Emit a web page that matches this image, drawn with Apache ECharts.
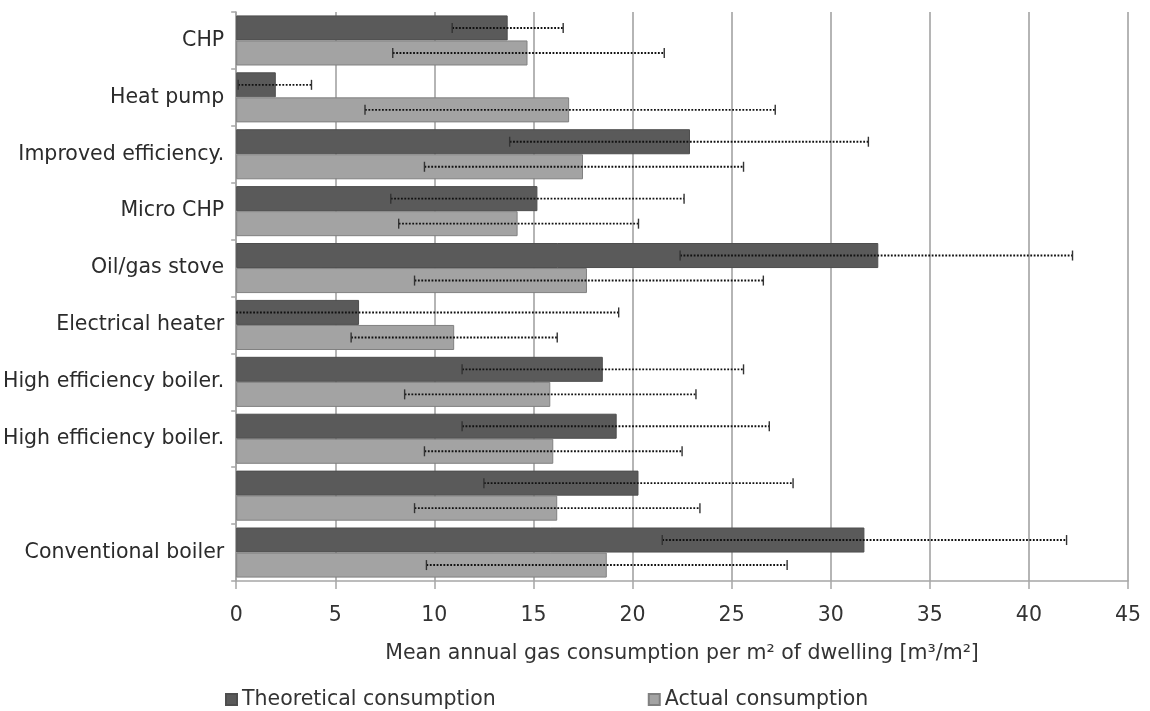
<!DOCTYPE html>
<html>
<head>
<meta charset="utf-8">
<script src="https://cdn.jsdelivr.net/npm/echarts@6/dist/echarts.min.js"></script>
<style>
html,body{margin:0;padding:0;background:#fff;}
#chart{width:1150px;height:711px;}
</style>
</head>
<body>
<div id="chart"></div>
<script>
const categories = ['CHP', 'Heat pump', 'Improved efficiency.', 'Micro CHP', 'Oil/gas stove', 'Electrical heater', 'High efficiency boiler.', 'High efficiency boiler.', '', 'Conventional boiler'];
const theoretical = [13.7, 2.0, 22.9, 15.2, 32.4, 6.2, 18.5, 19.2, 20.3, 31.7];
const theoreticalLow = [10.9, 0.1, 13.8, 7.8, 22.4, -6.9, 11.4, 11.4, 12.5, 21.5];
const theoreticalHigh = [16.5, 3.8, 31.9, 22.6, 42.2, 19.3, 25.6, 26.9, 28.1, 41.9];
const actual = [14.7, 16.8, 17.5, 14.2, 17.7, 11.0, 15.85, 16.0, 16.2, 18.7];
const actualLow = [7.9, 6.5, 9.5, 8.2, 9.0, 5.8, 8.5, 9.5, 9.0, 9.6];
const actualHigh = [21.6, 27.2, 25.6, 20.3, 26.6, 16.2, 23.2, 22.5, 23.4, 27.8];
const xTicks = [0, 5, 10, 15, 20, 25, 30, 35, 40, 45];
const seriesNames = ['Theoretical consumption', 'Actual consumption'];
const axisTitle = 'Mean annual gas consumption per m\u00B2 of dwelling [m\u00B3/m\u00B2]';

const FONT = 'DejaVu Sans';
const CAT_GAP = 0.12;

function errData(lows, highs) {
  return categories.map((c, i) => [i, lows[i], highs[i]]);
}

function errRender(sign) {
  return function (params, api) {
    const idx = api.value(0);
    const lo = api.value(1);
    const hi = api.value(2);
    const band = api.size([0, 1])[1];
    const barW = band * (1 - CAT_GAP) / 2;
    const pHi = api.coord([hi, idx]);
    const pLo = api.coord([Math.max(lo, 0), idx]);
    const y = pHi[1] + sign * barW / 2;
    const cap = 5;
    const children = [{
      type: 'line',
      shape: { x1: pLo[0], y1: y, x2: pHi[0], y2: y },
      style: { stroke: '#111', lineWidth: 1.9, lineDash: [1.8, 1.6] }
    }, {
      type: 'line',
      shape: { x1: pHi[0], y1: y - cap, x2: pHi[0], y2: y + cap },
      style: { stroke: '#333', lineWidth: 1.4 }
    }];
    if (lo >= 0) {
      children.push({
        type: 'line',
        shape: { x1: pLo[0], y1: y - cap, x2: pLo[0], y2: y + cap },
        style: { stroke: '#333', lineWidth: 1.4 }
      });
    }
    return { type: 'group', children: children };
  };
}

const chart = echarts.init(document.getElementById('chart'), null, { renderer: 'canvas' });
chart.setOption({
  animation: false,
  backgroundColor: '#ffffff',
  textStyle: { fontFamily: FONT },
  grid: { left: 233, right: 22, top: 12, bottom: 130, containLabel: false },
  legend: {
    data: seriesNames,
    left: 220,
    top: 684,
    itemWidth: 11,
    itemHeight: 11,
    itemGap: 152,
    icon: 'rect',
    textStyle: { fontFamily: FONT, fontSize: 20.5, color: '#333' }
  },
  xAxis: {
    type: 'value',
    min: 0,
    max: 45,
    interval: 5,
    name: axisTitle,
    nameLocation: 'middle',
    nameGap: 62,
    nameTextStyle: { fontFamily: FONT, fontSize: 20.5, color: '#333' },
    axisLine: { show: true, lineStyle: { color: '#a6a6a6', width: 1.5 } },
    axisTick: { show: true, length: 8, lineStyle: { color: '#a6a6a6', width: 1.5 } },
    axisLabel: {
      margin: 24,
      fontFamily: FONT,
      fontSize: 20.5,
      color: '#333',
      formatter: function (v) { return xTicks.indexOf(v) >= 0 ? String(v) : ''; }
    },
    splitLine: { show: true, lineStyle: { color: '#9c9c9c', width: 1.5 } }
  },
  yAxis: {
    type: 'category',
    inverse: true,
    data: categories,
    axisLine: { show: true, lineStyle: { color: '#a6a6a6', width: 1.5 } },
    axisTick: { show: true, length: 5, lineStyle: { color: '#a6a6a6', width: 1.5 } },
    axisLabel: { margin: 12, fontFamily: FONT, fontSize: 20.5, color: '#2b2b2b' },
    splitLine: { show: false }
  },
  series: [{
    name: seriesNames[0],
    type: 'bar',
    data: theoretical,
    barGap: '0%',
    barCategoryGap: (CAT_GAP * 100) + '%',
    itemStyle: { color: '#5a5a5a', borderColor: '#4e4e4e', borderWidth: 1 },
    z: 2
  }, {
    name: seriesNames[1],
    type: 'bar',
    data: actual,
    barGap: '0%',
    barCategoryGap: (CAT_GAP * 100) + '%',
    itemStyle: { color: '#a3a3a3', borderColor: '#808080', borderWidth: 1 },
    z: 2
  }, {
    name: 'err-theoretical',
    type: 'custom',
    renderItem: errRender(-1),
    data: errData(theoreticalLow, theoreticalHigh),
    encode: { x: [1, 2], y: 0 },
    z: 5,
    silent: true
  }, {
    name: 'err-actual',
    type: 'custom',
    renderItem: errRender(1),
    data: errData(actualLow, actualHigh),
    encode: { x: [1, 2], y: 0 },
    z: 5,
    silent: true
  }]
});
</script>
</body>
</html>
